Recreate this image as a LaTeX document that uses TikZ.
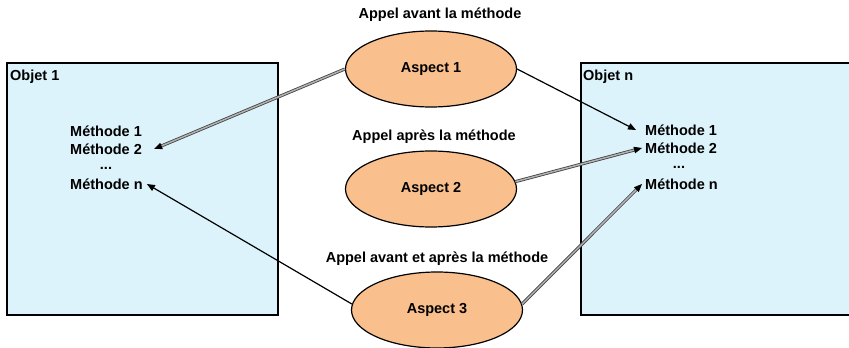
\documentclass[tikz,border=0pt]{standalone}
\usepackage{fontspec}
\setmainfont{Liberation Sans}
\usetikzlibrary{shapes.geometric,arrows.meta}
\definecolor{objblue}{HTML}{DDF3FC}
\definecolor{asporange}{HTML}{F9C08E}

\begin{document}
\begin{tikzpicture}[x=1pt,y=-1pt,
	every node/.style={font=\fontsize{14.5}{17}\selectfont\bfseries, inner sep=0pt},
	objet/.style={draw, fill=objblue, line width=1.3pt},
	aspect/.style={ellipse, draw, fill=asporange, line width=1.2pt, minimum width=171pt, minimum height=76pt},
	simple/.style={-{Triangle[length=8pt,width=6.5pt]}, line width=1.2pt},
	dbl/.style={-{Triangle[length=8pt,width=6.5pt,color=black]}, draw=black!75, double=black!30, double distance=1.5pt, line width=0.8pt}] % px grid, y downwards

	\useasboundingbox (0,0) rectangle (849,348);

	\draw[objet] (7,63) rectangle (278,315);
	\draw[objet] (581,63) rectangle (870,315);

	\node[anchor=west] (o1) at (10,77) {Objet 1};
	\node[anchor=west] (m11) at (70,131) {Méthode 1};
	\node[anchor=west] (m12) at (70,149) {Méthode 2};
	\node (m1d) at (106,168) {...};
	\node[anchor=west] (m1n) at (70,184) {Méthode n};

	\node[anchor=west] (on) at (583,77) {Objet n};
	\node[anchor=west] (m21) at (645,130) {Méthode 1};
	\node[anchor=west] (m22) at (645,148) {Méthode 2};
	\node (m2d) at (679,167) {...};
	\node[anchor=west] (m2n) at (645,184) {Méthode n};

	\node (t1) at (440,15) {Appel avant la méthode};
	\node (t2) at (434,137) {Appel après la méthode};
	\node (t3) at (437,259) {Appel avant et après la méthode};

	\node[aspect] (a1) at (431,69) {Aspect 1};
	\node[aspect] (a2) at (431,189) {Aspect 2};
	\node[aspect] (a3) at (437,310) {\raisebox{-9pt}{Aspect 3}};

	\draw[dbl] (a1.west) -- ([xshift=12pt]m12.east);
	\draw[simple] (a1.east) -- ([xshift=-9pt]m21.west);
	\draw[dbl] (a2.5) -- ([xshift=-3pt]m22.west);
	\draw[simple] (a3.176) -- ([xshift=4pt]m1n.east);
	\draw[dbl] (a3.4) -- ([xshift=-3pt]m2n.west);

\end{tikzpicture}
\end{document}
